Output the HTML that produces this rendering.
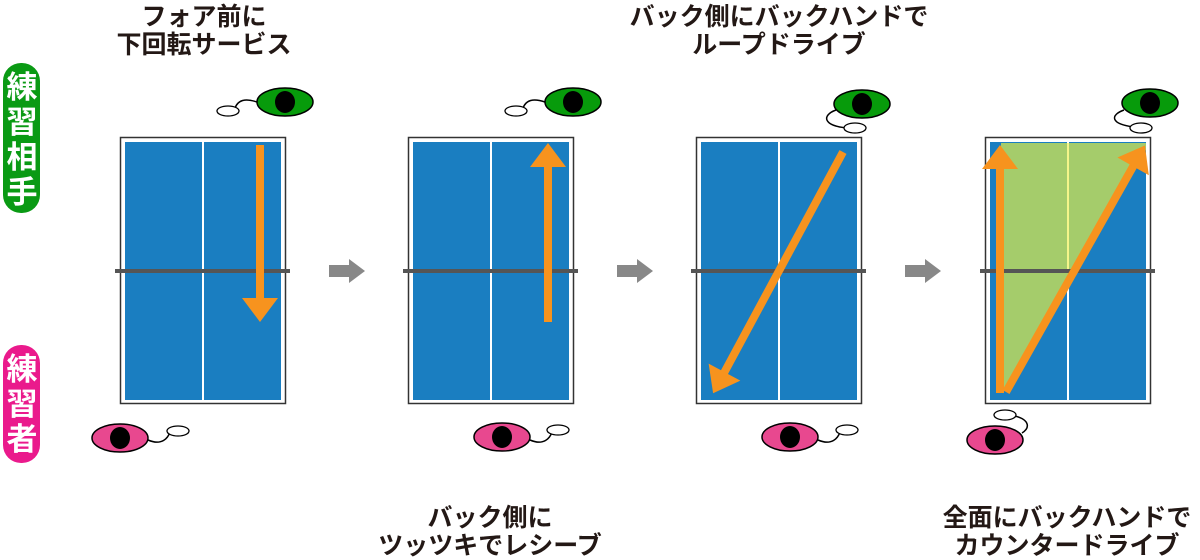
<!DOCTYPE html>
<html><head><meta charset="utf-8"><style>
html,body{margin:0;padding:0;background:#fff;width:1200px;height:560px;overflow:hidden}
svg{display:block}
.t{font-family:"Liberation Sans","Noto Sans CJK JP",sans-serif;font-weight:bold;font-size:25px;fill:#231815;text-anchor:middle}
.s{font-family:"Liberation Sans","Noto Sans CJK JP",sans-serif;font-weight:bold;font-size:31px;fill:#fff;text-anchor:middle}
</style></head><body>
<svg width="1200" height="560" viewBox="0 0 1200 560" xmlns="http://www.w3.org/2000/svg">
<defs>
<g id="tbl">
<rect x="0.5" y="0.5" width="165" height="266" fill="#fff" stroke="#333" stroke-width="1.5"/>
<rect x="5" y="5" width="156" height="258" fill="#1a7ec1"/>
<rect x="82" y="5" width="2" height="258" fill="#fff"/>
</g>
<g id="geye">
<ellipse cx="0" cy="0" rx="28" ry="14" fill="#079b0b" stroke="#000" stroke-width="1.5"/>
<ellipse cx="0" cy="0" rx="10" ry="11" fill="#000"/>
</g>
<g id="peye">
<ellipse cx="0" cy="0" rx="28" ry="14" fill="#e8488f" stroke="#000" stroke-width="1.5"/>
<ellipse cx="0" cy="0" rx="10" ry="11" fill="#000"/>
</g>
<polygon id="garr" points="0,-6 20,-6 20,-12 36,0 20,12 20,6 0,6" fill="#888"/>
</defs>

<rect x="3" y="63" width="37" height="150" rx="18" fill="#0a9a14"/>
<text class="s" x="22" y="98">練</text><text class="s" x="22" y="133">習</text><text class="s" x="22" y="168">相</text><text class="s" x="22" y="203">手</text>
<rect x="3" y="345" width="37" height="118" rx="18" fill="#ea1a8c"/>
<text class="s" x="22" y="380">練</text><text class="s" x="22" y="415">習</text><text class="s" x="22" y="450">者</text>

<text class="t" x="204" y="25">フォア前に</text><text class="t" x="204" y="53">下回転サービス</text>
<text class="t" x="779" y="25">バック側にバックハンドで</text><text class="t" x="779" y="53">ループドライブ</text>
<text class="t" x="490" y="526">バック側に</text><text class="t" x="490" y="554">ツッツキでレシーブ</text>
<text class="t" x="1067" y="526">全面にバックハンドで</text><text class="t" x="1067" y="554">カウンタードライブ</text>

<use href="#tbl" x="120" y="137"/>
<use href="#tbl" x="408" y="137"/>
<use href="#tbl" x="696" y="137"/>
<use href="#tbl" x="985" y="137"/>

<polygon points="1001,143 1146,143 1146,150 1003,393 1001,393" fill="#a5cc6b"/>
<rect x="1067" y="143" width="2" height="128" fill="#f5f58a"/>

<g fill="#555">
<rect x="115" y="269" width="175" height="4"/>
<rect x="403" y="269" width="175" height="4"/>
<rect x="691" y="269" width="175" height="4"/>
<rect x="980" y="269" width="175" height="4"/>
</g>

<g fill="#f7931e">
<g transform="translate(260,145) rotate(90)"><rect x="0" y="-4" width="155" height="8"/><polygon points="153,-18 177,0 153,18"/></g>
<g transform="translate(548,322) rotate(-90)"><rect x="0" y="-4" width="157" height="8"/><polygon points="155,-18 179,0 155,18"/></g>
<g transform="translate(843,152) rotate(118.3)"><rect x="0" y="-4" width="252" height="8"/><polygon points="250,-18 274,0 250,18"/></g>
<g transform="translate(1000,393) rotate(-90)"><rect x="0" y="-4" width="226" height="8"/><polygon points="224,-18 248,0 224,18"/></g>
<g transform="translate(1006,392) rotate(-60.6)"><rect x="0" y="-4" width="261" height="8"/><polygon points="259,-18 283,0 259,18"/></g>
</g>

<use href="#garr" x="329" y="271"/>
<use href="#garr" x="617" y="271"/>
<use href="#garr" x="905" y="271"/>

<g fill="none" stroke="#000" stroke-width="1.5">
<path d="M257,102 C245,98 238,100 235,108"/>
<path d="M545,102 C533,98 526,100 523,108"/>
<path d="M836,110 C822,115 822,126 848,128"/>
<path d="M1124,110 C1110,115 1110,124 1134,127"/>
<path d="M148,440 C162,446 168,438 170,432"/>
<path d="M530,440 C544,446 550,438 552,432"/>
<path d="M818,440 C832,446 838,438 840,432"/>
<path d="M1022,433 C1030,428 1030,420 1015,416"/>
</g>
<g fill="#fff" stroke="#000" stroke-width="1.3">
<ellipse cx="228" cy="111" rx="11" ry="5"/>
<ellipse cx="516" cy="111" rx="11" ry="5"/>
<ellipse cx="855" cy="128" rx="11" ry="5"/>
<ellipse cx="1141" cy="128" rx="11" ry="5"/>
<ellipse cx="178" cy="431" rx="11" ry="5"/>
<ellipse cx="558" cy="430" rx="11" ry="5"/>
<ellipse cx="847" cy="430" rx="11" ry="5"/>
<ellipse cx="1005" cy="415" rx="11" ry="5"/>
</g>
<use href="#geye" x="285" y="102"/>
<use href="#geye" x="573" y="102"/>
<use href="#geye" x="862" y="104"/>
<use href="#geye" x="1150" y="103"/>
<use href="#peye" x="120" y="438"/>
<use href="#peye" x="502" y="437"/>
<use href="#peye" x="790" y="437"/>
<use href="#peye" x="995" y="440"/>
</svg>
</body></html>
